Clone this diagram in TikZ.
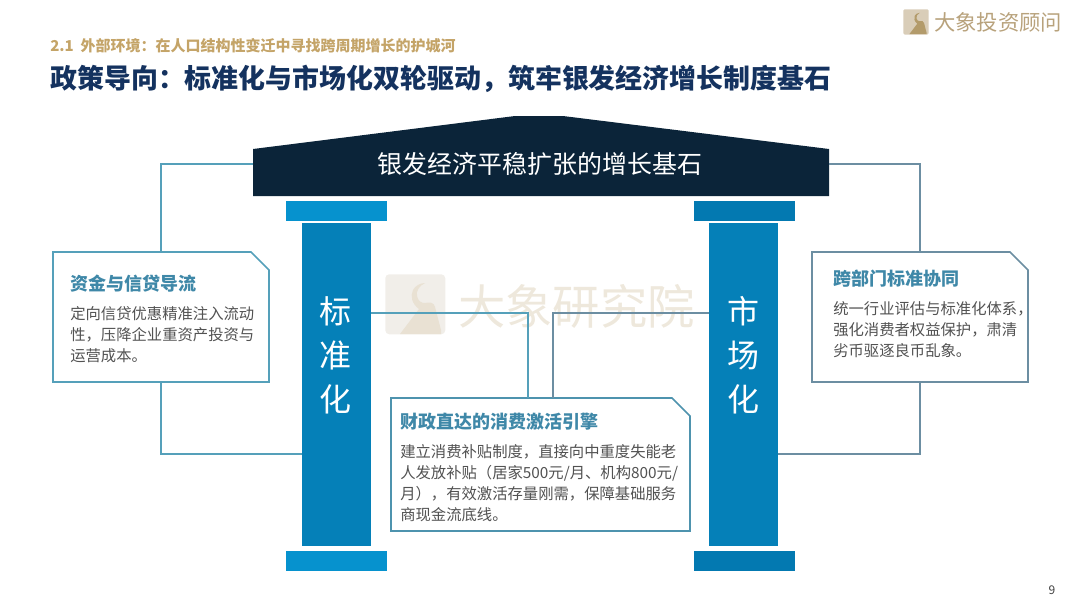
\documentclass[tikz,border=0pt]{standalone}
\usepackage{fontspec}
\setmainfont{Noto Sans CJK SC}
\usepackage{xcolor}
\usetikzlibrary{calc, positioning}
\definecolor{navy}{HTML}{14325F}
\definecolor{gold}{HTML}{C4A468}
\definecolor{logobg}{HTML}{D9CDB8}
\definecolor{logoshape}{HTML}{B39B6B}
\definecolor{logoname}{HTML}{B8A27C}
\definecolor{roofdark}{HTML}{0B2439}
\definecolor{pillarblue}{HTML}{0580B8}
\definecolor{capleft}{HTML}{0692CE}
\definecolor{capright}{HTML}{0379B1}
\definecolor{tealline}{HTML}{55A0BA}
\definecolor{slateline}{HTML}{6C8EA2}
\definecolor{midline}{HTML}{4E93AE}
\definecolor{cardhead}{HTML}{3F88A8}
\definecolor{wmbox}{HTML}{F1EEE9}
\definecolor{wmshape}{HTML}{E9E1D3}
\definecolor{wmtext}{HTML}{EEE8DC}
% full-width punctuation
\newcommand{\fwcolon}{\char"FF1A\relax}
\newcommand{\fwcomma}{\char"FF0C\relax}
\newcommand{\fwopen}{\char"FF08\relax}
\newcommand{\fwclose}{\char"FF09\relax}
% mound and trunk of the logo, in a box of 60 units
\newcommand{\moundpath}{(15,60) -- (34,35) .. controls (27,30) and (25,22) .. (28,16)
  .. controls (30,12) and (35,9) .. (40,9) .. controls (34,12) and (31,17) .. (32,22)
  .. controls (33,27) and (36,29) .. (40,29) .. controls (44,28) and (49,28) .. (50,33)
  -- (56,56) -- (56,60) -- cycle}

\begin{document}
\begin{tikzpicture}[
  x=0.75pt, y=-0.75pt,
  pillar/.style={fill=pillarblue, minimum width=51.75pt, minimum height=242.25pt,
                 inner sep=0pt, outer sep=0pt},
  pillartext/.style={font=\fontsize{24}{33}\selectfont, text=white, align=center, inner sep=0pt},
  capbox/.style={minimum width=75.75pt, minimum height=15pt, inner sep=0pt, outer sep=0pt},
  card/.style={fill=white, inner sep=0pt, outer sep=0pt, anchor=north west},
  cardtitle/.style={font=\fontsize{13.5}{16}\selectfont\bfseries, text=cardhead, inner sep=0pt, anchor=north west},
  cardbody/.style={font=\fontsize{11.5}{15.9}\selectfont, text=black!68, align=left, inner sep=0pt, anchor=north west},
  link/.style={line width=1.3pt}
]
\useasboundingbox (0,0) rectangle (1080,608);

% header
\node[font=\fontsize{11.25}{14}\selectfont\bfseries, text=gold, anchor=west, inner sep=0pt] (section) at (50,46)
  {2.1\ \ 外部环境\fwcolon 在人口结构性变迁中寻找跨周期增长的护城河};
\node[font=\fontsize{20.2}{24}\selectfont\bfseries, text=navy, anchor=west, inner sep=0pt] (headline) at (50,79)
  {政策导向\fwcolon 标准化与市场化双轮驱动\fwcomma 筑牢银发经济增长制度基石};

% logo
\node[fill=logobg, rounded corners=1pt, minimum size=19pt, inner sep=0pt, anchor=north west] (logobox) at (903,9) {};
\begin{scope}[shift={(903,9)}, scale=0.42]
  \fill[logoshape] \moundpath;
\end{scope}
\node[font=\fontsize{16}{18}\selectfont, text=logoname, anchor=west, inner sep=0pt] (logotext) at (934,22) {大象投资顾问};

% watermark
\node[fill=wmbox, rounded corners=3pt, minimum size=45pt, inner sep=0pt, anchor=north west] (wmlogo) at (385,274) {};
\begin{scope}[shift={(385,274)}]
  \fill[wmshape] \moundpath;
\end{scope}
\node[font=\fontsize{35.5}{40}\selectfont, text=wmtext, anchor=west, inner sep=0pt] (wmname) at (458,306) {大象研究院};

% roof
\fill[roofdark] (253,149) -- (515,116) -- (563,116) -- (829,149) -- (829,196) -- (253,196) -- cycle;
\node[font=\fontsize{18.7}{22}\selectfont, text=white, inner sep=0pt] (roof) at (540,164) {银发经济平稳扩张的增长基石};
\coordinate (roofL) at (253,164);
\coordinate (roofR) at (829,164);

% pillars
\node[capbox, fill=capleft, anchor=north west] (capLtop) at (286,201) {};
\node[capbox, fill=capleft, anchor=north west] (capLbot) at (286,551) {};
\node[capbox, fill=capright, anchor=north west] (capRtop) at (694,201) {};
\node[capbox, fill=capright, anchor=north west] (capRbot) at (694,551) {};
\node[pillar, anchor=north west] (pillarL) at (302,223) {};
\node[pillar, anchor=north west] (pillarR) at (709,223) {};
\node[pillartext, anchor=north] (textL) at (335,296) {标\\准\\化};
\node[pillartext, anchor=north] (textR) at (743,296) {市\\场\\化};
\coordinate (pillarLmid) at (371,313);
\coordinate (pillarRmid) at (709,313);
\coordinate (pillarLlow) at (302,454);
\coordinate (pillarRlow) at (778,454);

% cards
\node[card, minimum width=162pt, minimum height=97.5pt] (cardL) at (53,252) {};
\node[card, minimum width=162pt, minimum height=97.5pt] (cardR) at (812,252) {};
\node[card, minimum width=224.25pt, minimum height=99.75pt] (cardM) at (391,398) {};
\foreach \c/\col in {cardL/tealline, cardR/slateline, cardM/midline}
  \draw[link, \col] (\c.north west) -- ($(\c.north east)+(-18,0)$) -- ($(\c.north east)+(0,18)$)
    -- (\c.south east) -- (\c.south west) -- cycle;

\node[cardtitle] (titleL) at (70,275) {资金与信贷导流};
\node[cardbody, below=10pt of titleL.south west, anchor=north west] (bodyL)
  {定向信贷优惠精准注入流动\\性\fwcomma 压降企业重资产投资与\\运营成本。};
\node[cardtitle] (titleR) at (833,270) {跨部门标准协同};
\node[cardbody, below=10pt of titleR.south west, anchor=north west] (bodyR)
  {统一行业评估与标准化体系\fwcomma\\强化消费者权益保护\fwcomma 肃清\\劣币驱逐良币乱象。};
\node[cardtitle] (titleM) at (400,413) {财政直达的消费激活引擎};
\node[cardbody, below=10pt of titleM.south west, anchor=north west] (bodyM)
  {建立消费补贴制度\fwcomma 直接向中重度失能老\\人发放补贴\fwopen 居家500元/月、机构800元/\\月\fwclose\fwcomma 有效激活存量刚需\fwcomma 保障基础服务\\商现金流底线。};

% links
\draw[link, tealline] (roofL) -| (cardL.north);
\draw[link, tealline] (cardL.south) |- (pillarLlow);
\draw[link, slateline] (roofR) -| (cardR.north);
\draw[link, slateline] (cardR.south) |- (pillarRlow);
\draw[link, tealline] (pillarLmid) -| ($(cardM.north west)+(137,0)$);
\draw[link, slateline] (pillarRmid) -| ($(cardM.north west)+(162,0)$);

% page number
\node[font=\fontsize{9}{11}\selectfont, text=black!75, inner sep=0pt] (pageno) at (1052,590) {9};
\end{tikzpicture}
\end{document}
